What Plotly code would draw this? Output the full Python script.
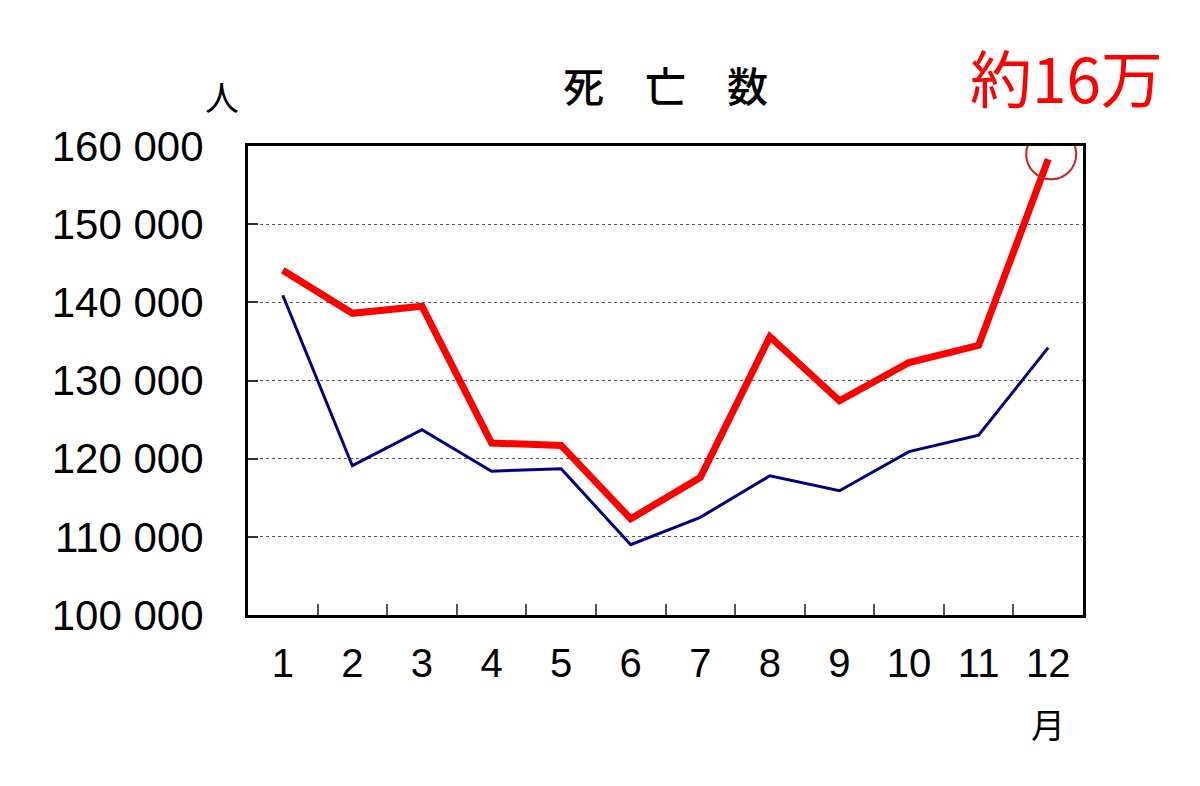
import plotly.graph_objects as go

RED = 'rgb(255, 0, 0)'
NAVY = 'rgb(0, 0, 128)'
FONT = 'Liberation Sans, Arial, sans-serif'
CJK = 'Noto Sans CJK JP'

months = [str(m) for m in range(1, 13)]
deaths_red = [144100, 138600, 139500, 122000, 121700, 112300,
              117600, 135600, 127400, 132300, 134500, 158300]
deaths_blue = [140900, 119100, 123700, 118400, 118700, 109000,
               112500, 117800, 115900, 120900, 123000, 134200]
y_ticks = [100000, 110000, 120000, 130000, 140000, 150000, 160000]
y_tick_text = ['100 000', '110 000', '120 000', '130 000', '140 000', '150 000', '160 000']

last = len(months) - 1  # category index of December

fig = go.Figure()
fig.add_trace(go.Scatter(x=months, y=deaths_blue, mode='lines',
                         line=dict(color=NAVY, width=3)))
fig.add_trace(go.Scatter(x=months, y=deaths_red, mode='lines',
                         line=dict(color=RED, width=7)))

fig.update_layout(
    width=1200, height=786,
    margin=dict(l=240, r=125, t=138, b=179),
    paper_bgcolor='white', plot_bgcolor='white',
    showlegend=False,
    font=dict(family=FONT, color='black'),
)
fig.update_xaxes(
    type='category', tickson='boundaries', range=[-0.5, last + 0.5],
    showgrid=False, showline=True, linecolor='black', linewidth=3, mirror=True,
    ticks='inside', ticklen=11, tickwidth=2, tickcolor='#555',
    tickfont=dict(size=40, family=FONT), ticklabelstandoff=11,
)
fig.update_yaxes(
    range=[100000, 160000], tickvals=y_ticks, ticktext=y_tick_text,
    showgrid=True, gridcolor='#555', gridwidth=1, griddash='dot',
    showline=True, linecolor='black', linewidth=3, mirror=True,
    ticks='inside', ticklen=10, tickwidth=2, tickcolor='#333',
    tickfont=dict(size=42, family=FONT), ticklabelstandoff=33,
    zeroline=False,
)

# title and unit labels
fig.add_annotation(text='死\u2003亡\u2003数', xref='paper', yref='paper', x=0.5, y=1.0,
                   yshift=62, xanchor='center', yanchor='middle', showarrow=False,
                   font=dict(family=CJK, size=41, color='black', weight=500))
fig.add_annotation(text='人', xref='paper', yref='paper', x=0, y=1.0,
                   xshift=-26, yshift=50, xanchor='center', yanchor='middle',
                   showarrow=False, font=dict(family=CJK, size=34, color='black'))
fig.add_annotation(text='月', xref='x', yref='paper', x=last, y=0,
                   yshift=-108, xanchor='center', yanchor='middle', showarrow=False,
                   font=dict(family=CJK, size=34, color='black'))

# highlight of the December peak
fig.add_annotation(text='約16万', xref='x', yref='paper', x=last, y=1.0,
                   xshift=18, yshift=70, xanchor='center', yanchor='middle',
                   showarrow=False, font=dict(family=CJK, size=62, color=RED))
fig.add_shape(type='circle', xref='x', yref='y',
              xsizemode='pixel', ysizemode='pixel',
              xanchor=last, yanchor=deaths_red[-1],
              x0=-22, x1=28, y0=-20, y1=30,
              line=dict(color='rgb(215, 30, 30)', width=2))

fig.write_html('out.html')
